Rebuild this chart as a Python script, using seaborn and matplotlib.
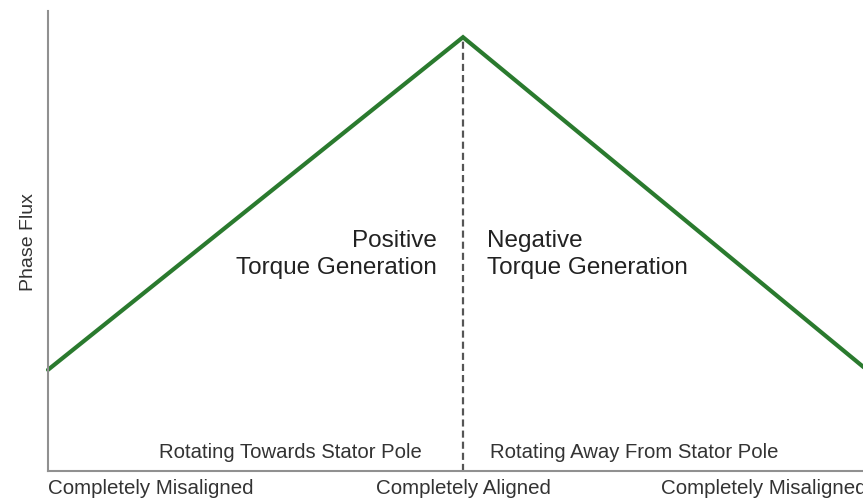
import matplotlib
matplotlib.use("Agg")
import matplotlib.pyplot as plt
import matplotlib.transforms as mtransforms
import pandas as pd
import seaborn as sns

# Rotor position (0 = misaligned, 1 = aligned, 2 = misaligned again)
positions = [0.0, 1.0, 2.0]
phase_flux = [0.22, 0.943, 0.20]
position_labels = ["Completely Misaligned", "Completely Aligned", "Completely Misaligned"]

region_titles = ["Positive\nTorque Generation", "Negative\nTorque Generation"]
motion_labels = ["Rotating Towards Stator Pole", "Rotating Away From Stator Pole"]

sns.set_style("white")
plt.rcParams["font.family"] = ["Liberation Sans", "DejaVu Sans"]

df = pd.DataFrame({"position": positions, "flux": phase_flux})

fig = plt.figure(figsize=(8.63, 5.02), dpi=100)
ax = fig.add_axes([48 / 863, 30 / 502, 830 / 863, 460 / 502])

sns.lineplot(data=df, x="position", y="flux", ax=ax, color="#2a7a2e",
             linewidth=3.0, solid_joinstyle="miter", clip_on=False)

# Dashed marker at the aligned position, up to the flux peak
peak_x = positions[1]
peak_y = phase_flux[1]
ax.plot([peak_x, peak_x], [0, peak_y], color="#555555", linewidth=1.6,
        dashes=(3.2, 1.8), zorder=1)

ax.set_xlim(0, 2)
ax.set_ylim(0, 1)
ax.set_xlabel("")
ax.set_ylabel("Phase Flux", fontsize=14, color="#333333", labelpad=8)
ax.set_yticks([])

ax.set_xticks(positions)
ax.set_xticklabels(position_labels, fontsize=14.8, color="#333333")
ax.tick_params(axis="x", length=0, pad=5)
tl = ax.get_xticklabels()
tl[0].set_ha("left")
tl[1].set_ha("center")
tl[2].set_ha("right")
tl[2].set_transform(tl[2].get_transform() +
                    mtransforms.ScaledTranslation(-0.12, 0, fig.dpi_scale_trans))

for side in ("top", "right"):
    ax.spines[side].set_visible(False)
for side in ("left", "bottom"):
    ax.spines[side].set_color("#909090")
    ax.spines[side].set_linewidth(1.5)

ax.text(0.937, 0.472, region_titles[0], ha="right", va="center",
        fontsize=17.5, color="#222222", linespacing=1.3)
ax.text(1.058, 0.472, region_titles[1], ha="left", va="center",
        fontsize=17.5, color="#222222", linespacing=1.3)

ax.text(0.901, 0.043, motion_labels[0], ha="right", va="center",
        fontsize=14.6, color="#333333")
ax.text(1.065, 0.043, motion_labels[1], ha="left", va="center",
        fontsize=14.6, color="#333333")

fig.savefig("out.png", dpi=100)
